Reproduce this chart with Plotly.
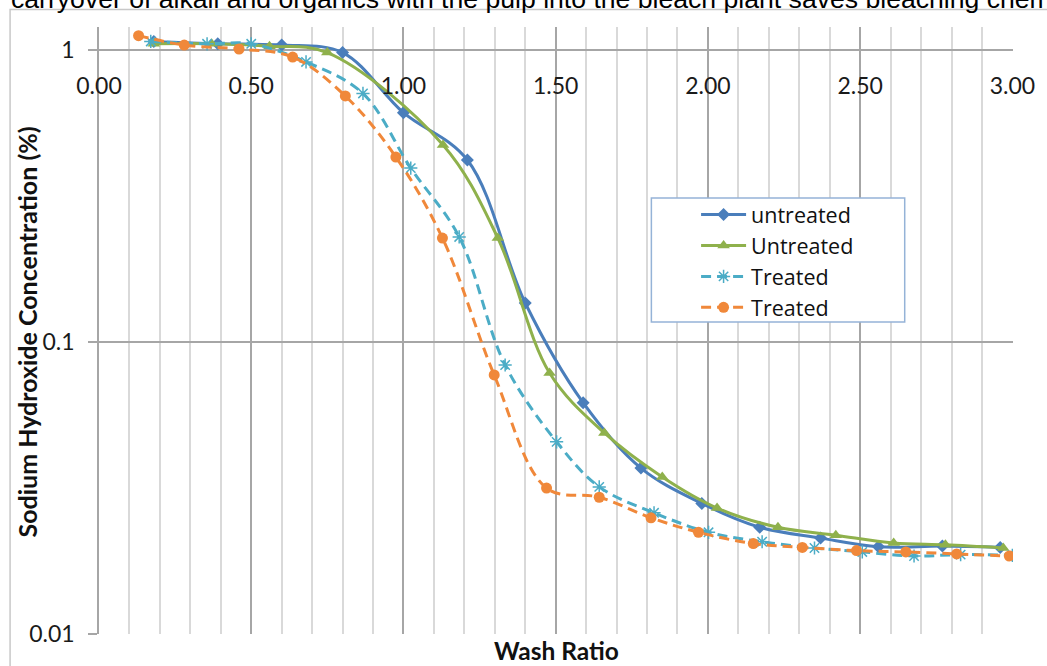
import plotly.graph_objects as go

# Wash ratio vs. residual NaOH concentration (%)
untreated_a_x = [0.18, 0.39, 0.60, 0.80, 1.00, 1.21, 1.40, 1.59, 1.78, 1.98, 2.17, 2.37, 2.56, 2.77, 2.96]
untreated_a_y = [1.07, 1.05, 1.04, 0.98, 0.61, 0.42, 0.136, 0.062, 0.037, 0.028, 0.0232, 0.0213, 0.0199, 0.0200, 0.0198]

untreated_b_x = [0.18, 0.37, 0.56, 0.75, 1.13, 1.31, 1.48, 1.66, 1.85, 2.03, 2.23, 2.42, 2.61, 2.78, 2.97]
untreated_b_y = [1.05, 1.05, 1.03, 0.98, 0.473, 0.227, 0.0783, 0.0488, 0.0345, 0.027, 0.0232, 0.0218, 0.0205, 0.0202, 0.0197]

treated_a_x = [0.17, 0.355, 0.50, 0.68, 0.867, 1.024, 1.183, 1.334, 1.503, 1.643, 1.823, 2.002, 2.178, 2.35, 2.507, 2.677, 2.83, 3.0]
treated_a_y = [1.07, 1.05, 1.05, 0.91, 0.71, 0.394, 0.229, 0.0834, 0.0455, 0.0319, 0.026, 0.0223, 0.0207, 0.0197, 0.0191, 0.0185, 0.0187, 0.0186]

treated_b_x = [0.13, 0.28, 0.46, 0.636, 0.809, 0.975, 1.128, 1.298, 1.47, 1.643, 1.813, 1.969, 2.149, 2.31, 2.488, 2.65, 2.817, 2.99]
treated_b_y = [1.12, 1.04, 1.008, 0.946, 0.696, 0.430, 0.227, 0.0771, 0.0316, 0.0294, 0.0250, 0.0223, 0.0204, 0.0198, 0.0193, 0.0191, 0.0188, 0.0185]

series_names = ["untreated", "Untreated", "Treated", "Treated"]
x_tick_vals = [0.0, 0.5, 1.0, 1.5, 2.0, 2.5, 3.0]
x_tick_text = ["0.00", "0.50", "1.00", "1.50", "2.00", "2.50", "3.00"]
y_tick_vals = [0.01, 0.1, 1]
y_tick_text = ["0.01", "0.1", "1"]

BLUE = "#4A7EBB"
GREEN = "#8FB14C"
TEAL = "#4BACC6"
ORANGE = "#F0883A"
FONT = "Lato"

fig = go.Figure()

fig.add_trace(go.Scatter(
    x=untreated_a_x, y=untreated_a_y, name=series_names[0], mode="lines+markers",
    line=dict(color=BLUE, width=3, shape="spline", smoothing=1.0),
    marker=dict(symbol="diamond", size=10, color=BLUE)))
fig.add_trace(go.Scatter(
    x=untreated_b_x, y=untreated_b_y, name=series_names[1], mode="lines+markers",
    line=dict(color=GREEN, width=3, shape="spline", smoothing=1.0),
    marker=dict(symbol="triangle-up", size=11, color=GREEN)))
fig.add_trace(go.Scatter(
    x=treated_a_x, y=treated_a_y, name=series_names[2], mode="lines+markers",
    line=dict(color=TEAL, width=3, dash="10px,6px", shape="spline", smoothing=1.0),
    marker=dict(symbol="asterisk-open", size=11, line=dict(color=TEAL, width=1.5))))
fig.add_trace(go.Scatter(
    x=treated_b_x, y=treated_b_y, name=series_names[3], mode="lines+markers",
    line=dict(color=ORANGE, width=3, dash="10px,6px", shape="spline", smoothing=1.0),
    marker=dict(symbol="circle", size=11, color=ORANGE)))

L, R, T, B = 99, 28, 27, 32
W, H = 1047, 666
pw, ph = W - L - R, H - T - B

def px_x(p):
    return (p - L) / pw

def px_y(p):
    return (H - B - p) / ph

fig.update_layout(
    width=W, height=H,
    margin=dict(l=L, r=R, t=T, b=B),
    paper_bgcolor="white", plot_bgcolor="white",
    font=dict(family=FONT, size=22, color="#1a1a1a"),
    showlegend=True,
    legend=dict(
        x=px_x(700), y=px_y(194), xanchor="left", yanchor="top",
        bgcolor="rgba(0,0,0,0)", borderwidth=0,
        font=dict(family="Open Sans", size=21.5, color="#111111"),
        itemwidth=45, tracegroupgap=0,
    ),
    xaxis=dict(
        range=[0, 3.002], anchor="free", position=px_y(50), side="bottom",
        tickvals=x_tick_vals, ticktext=x_tick_text, ticks="",
        ticklabelstandoff=20,
        tickfont=dict(family=FONT, size=23, color="#1a1a1a"),
        showgrid=True, gridcolor="#A6A6A6", gridwidth=1.5,
        minor=dict(dtick=0.1, showgrid=True, gridcolor="#D9D9D9", gridwidth=1.5),
        showline=False, zeroline=False, fixedrange=True,
    ),
    yaxis=dict(
        type="log", range=[-2, 0.0788],
        tickvals=y_tick_vals, ticktext=y_tick_text,
        ticks="outside", ticklen=9, tickcolor="#A6A6A6", tickwidth=1.5,
        ticklabelstandoff=9,
        tickfont=dict(family=FONT, size=23, color="#1a1a1a"),
        showgrid=True, gridcolor="#A6A6A6", gridwidth=1.5,
        showline=True, linecolor="#A6A6A6", linewidth=1.5,
        zeroline=False, fixedrange=True,
    ),
    shapes=[
        # outer chart frame
        dict(type="rect", xref="paper", yref="paper",
             x0=px_x(9.5), y0=px_y(700), x1=px_x(1100), y1=px_y(9.5),
             line=dict(color="#C8C8C8", width=1.5), fillcolor="rgba(0,0,0,0)", layer="below"),
        # legend box
        dict(type="rect", xref="paper", yref="paper",
             x0=px_x(655), y0=px_y(322), x1=px_x(910), y1=px_y(198),
             line=dict(color="#95B3D7", width=1.5), fillcolor="white", layer="above"),
    ],
    annotations=[
        dict(text="Wash Ratio", xref="paper", yref="paper",
             x=px_x(559), y=px_y(650), xanchor="center", yanchor="middle",
             showarrow=False, font=dict(family=FONT, size=24.5, color="#111111", weight="bold")),
        dict(text="Sodium Hydroxide Concentration (%)", xref="paper", yref="paper",
             x=px_x(27), y=px_y(332), xanchor="center", yanchor="middle", textangle=-90,
             showarrow=False, font=dict(family=FONT, size=25, color="#111111", weight="bold")),
        dict(text="carryover of alkali and organics with the pulp into the bleach plant saves bleaching chemicals",
             xref="paper", yref="paper", x=px_x(8), y=px_y(-1), xanchor="left", yanchor="middle",
             showarrow=False, font=dict(family="Liberation Sans", size=26.6, color="#000000")),
    ],
)

fig.write_html("out.html")
